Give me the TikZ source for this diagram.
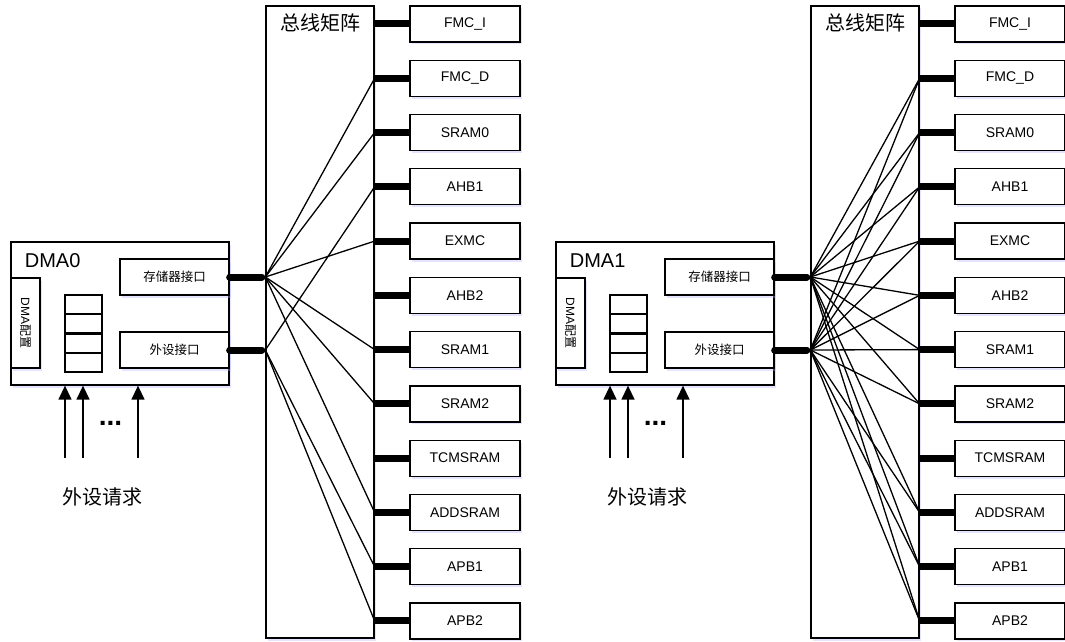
\documentclass[tikz,border=0pt]{standalone}
\usepackage{fontspec}
\setmainfont{Liberation Sans}
\newfontfamily\cjk{Noto Sans CJK SC}
\usepackage{tikz}
\usetikzlibrary{arrows.meta, positioning, shadows}

\begin{document}
\begin{tikzpicture}[
    x=1pt, y=-1pt,
    box/.style={
        rectangle,
        draw,
        line width=1.3pt,
        fill=white,
        inner sep=0pt,
        drop shadow={shadow xshift=1.5pt, shadow yshift=-2.5pt, fill=blue!30, opacity=0.35}
    },
    periph/.style={
        box,
        minimum width=110pt,
        minimum height=36pt,
        font=\fontsize{14}{16}\selectfont
    },
    portbox/.style={
        box,
        minimum width=109pt,
        minimum height=36pt,
        font=\cjk\fontsize{12.5}{14}\selectfont
    },
    cell/.style={
        rectangle,
        draw,
        line width=1.3pt,
        fill=white,
        minimum width=37pt,
        minimum height=18.25pt,
        inner sep=0pt
    },
    bus/.style={line width=7pt},
    link/.style={line width=1.3pt},
    req/.style={
        -{Triangle[length=14pt, width=13pt]},
        line width=1.4pt
    }
]
\useasboundingbox (0,0) rectangle (1065,642);

\foreach \d/\dx/\name in {0/0/DMA0, 1/545/DMA1} {
\begin{scope}[shift={(\dx,0)}]
% === DMA block ===
\node[box, minimum width=218pt, minimum height=143pt] (dma\d) at (120,313.5) {};
\node[anchor=base west, font=\fontsize{20}{24}\selectfont] (dmaname\d) at ([shift={(11,26)}]dma\d.north west) {\name};
\node[box, minimum width=29pt, minimum height=90pt] (cfg\d) at (25.5,323) {};
\node[rotate=-90, font=\fontsize{12}{14}\selectfont] (cfgtext\d) at (cfg\d) {DMA{\cjk 配置}};
\node[cell] (fifo\d-1) at (83.5,304.1) {};
\foreach \k [count=\j from 1] in {2,3,4}
    \node[cell, below=0pt of fifo\d-\j] (fifo\d-\k) {};
\node[portbox] (mem\d) at (174.5,277) {存储器接口};
\node[portbox] (per\d) at (174.5,350) {外设接口};

% === Requests ===
\foreach \rx [count=\r] in {65,83,138} {
    \coordinate (rq\d-\r) at (\rx,458);
    \draw[req] (rq\d-\r) -- (rq\d-\r |- dma\d.south);
}
\node[anchor=base, font=\bfseries\fontsize{28}{30}\selectfont] (dots\d) at (110.5,425) {...};
\node[font=\cjk\fontsize{20}{24}\selectfont] (reqname\d) at (102,497) {外设请求};

% === Bus matrix ===
\node[box, minimum width=108pt, minimum height=632pt] (bus\d) at (320,322) {};
\node[font=\cjk\fontsize{20}{24}\selectfont, below=5pt of bus\d.north] (busname\d) {总线矩阵};
\coordinate (mx\d) at (bus\d.west |- mem\d.east);
\coordinate (px\d) at (bus\d.west |- per\d.east);
\draw[bus, line cap=round, shorten >=3.5pt] (mem\d.east) -- (mx\d);
\draw[bus, line cap=round, shorten >=3.5pt] (per\d.east) -- (px\d);

% === Slaves ===
\foreach \lbl [count=\i] in {FMC\_I, FMC\_D, SRAM0, AHB1, EXMC, AHB2, SRAM1, SRAM2, TCMSRAM, ADDSRAM, APB1, APB2} {
    \node[periph] (p\d-\i) at (465,{24+54.27*(\i-1)}) {\lbl};
    \coordinate (q\d-\i) at (bus\d.east |- p\d-\i.west);
    \draw[bus] (q\d-\i) -- (p\d-\i.west);
}
\end{scope}
}

% === DMA0 links ===
\foreach \i in {2,3,5,7,8,10}
    \draw[link] (mx0) -- (q0-\i);
\foreach \i in {4,11,12}
    \draw[link] (px0) -- (q0-\i);

% === DMA1 links ===
\foreach \i in {2,3,4,5,6,7,8,10,11,12} {
    \draw[link] (mx1) -- (q1-\i);
    \draw[link] (px1) -- (q1-\i);
}
\end{tikzpicture}
\end{document}
